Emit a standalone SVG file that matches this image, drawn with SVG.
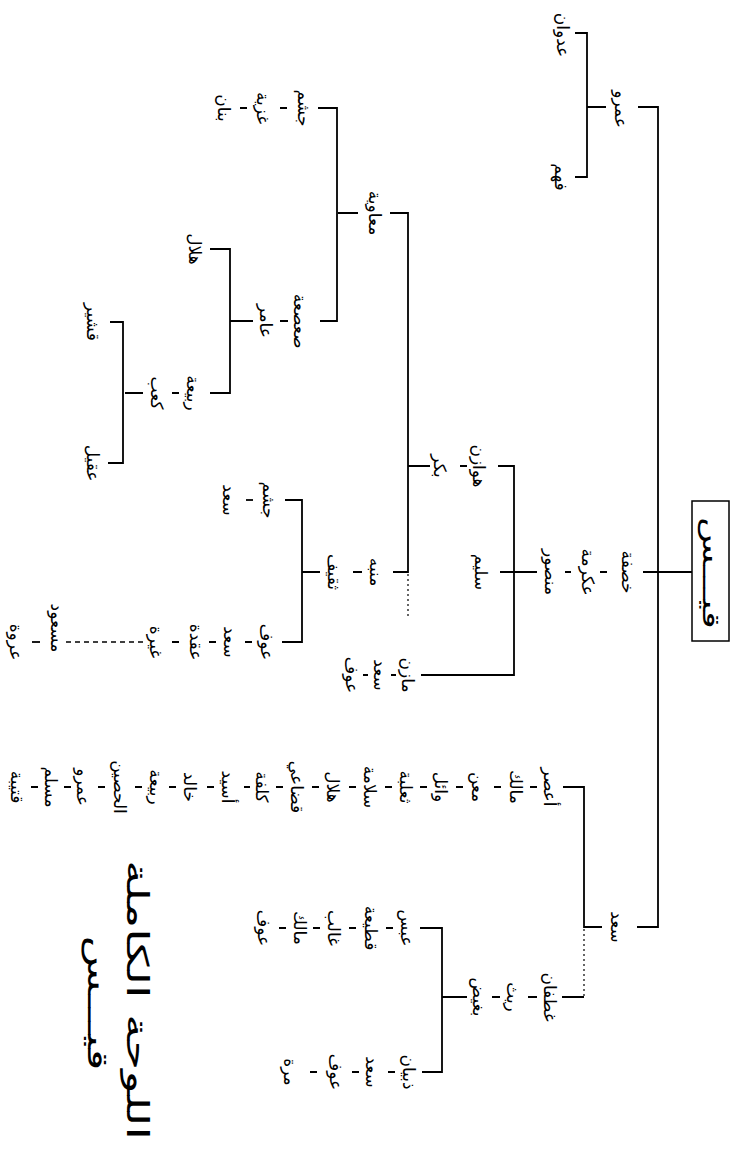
<svg xmlns="http://www.w3.org/2000/svg" width="732" height="1149" viewBox="0 0 732 1149">
<style>
.n{font-family:"DejaVu Sans",sans-serif;font-size:17px;fill:#000;text-anchor:middle;dominant-baseline:central}
.c{stroke:#000;stroke-width:1.8;fill:none}
.dot{stroke:#000;stroke-width:1.2;fill:none;stroke-dasharray:2 3}
.dash{stroke:#000;stroke-width:1.5;fill:none;stroke-dasharray:5 4}
</style>
<rect width="732" height="1149" fill="#fff"/>
<g id="connectors">
<path class="c" d="M638,107 H658 V927 H637"/>
<path class="c" d="M643,572 H692"/>
<path class="c" d="M587,107 H606 M575,33 H587 V177 H575"/>
<path class="c" d="M600,572 H607 M565,572 H571 M500,572 H537"/>
<path class="c" d="M498,466 H514 V675 H421"/>
<path class="c" d="M460,466 H467 M408,466 H430"/>
<path class="c" d="M390,213 H408 V572 H393"/>
<path class="dot" d="M408,574 V617"/>
<path class="c" d="M338,213 H358 M318,108 H337 V321 H320"/>
<path class="c" d="M280,108 H287 M240,108 H247"/>
<path class="c" d="M280,321 H288 M230,321 H253 M210,249 H230 V393 H210"/>
<path class="c" d="M172,393 H179 M125,393 H143 M110,322 H123 V463 H108"/>
<path class="c" d="M353,572 H362 M302,572 H320 M285,500 H302 V642 H282"/>
<path class="c" d="M246,500 H253"/>
<path class="c" d="M245,642 H252 M209,642 H216 M172,642 H179"/>
<path class="dash" d="M66,642 H144"/>
<path class="c" d="M32,642 H40"/>
<path class="c" d="M563,787 H584 V927 H602"/>
<path class="dot" d="M584,929 V997"/>
<path class="c" d="M530,787 H537 M494,787 H501 M456,787 H463 M420,787 H427 M385,787 H392 M349,787 H356 M312,787 H319 M276,787 H283 M244,787 H250 M207,787 H214 M169,787 H176 M135,787 H142 M98,787 H105 M64,787 H71 M31,787 H38"/>
<path class="c" d="M562,997 H584 M528,997 H537 M492,997 H500 M442,997 H467 M420,928 H442 V1072 H422"/>
<path class="c" d="M386,928 H393 M349,928 H356 M313,928 H320 M279,928 H286"/>
<path class="c" d="M388,1072 H395 M352,1072 H359 M310,1072 H317"/>
<path class="c" d="M391,675 H396 M363,675 H368"/>
</g>
<g id="root">
<rect x="692" y="501" width="37" height="140" fill="none" stroke="#000" stroke-width="1.5"/>
<text class="n" style="font-size:24px" transform="translate(711 573) rotate(90)" textLength="112" lengthAdjust="spacingAndGlyphs">قيـــس</text>
</g>
<g id="amr">
<text class="n" transform="translate(621 109) rotate(90)">عمرو</text>
<text class="n" transform="translate(563 35) rotate(90)">عدوان</text>
<text class="n" transform="translate(561 177) rotate(90)">فهم</text>
</g>
<g id="khasafa">
<text class="n" transform="translate(628 572) rotate(90)">خصفة</text>
<text class="n" transform="translate(588 572) rotate(90)">عكرمة</text>
<text class="n" transform="translate(551 572) rotate(90)">منصور</text>
<text class="n" transform="translate(481 572) rotate(90)">سليم</text>
</g>
<g id="mazin">
<text class="n" transform="translate(408 675) rotate(90)">مازن</text>
<text class="n" transform="translate(380 675) rotate(90)">سعد</text>
<text class="n" transform="translate(352 675) rotate(90)">عوف</text>
</g>
<g id="hawazin">
<text class="n" transform="translate(479 466) rotate(90)">هوازن</text>
<text class="n" transform="translate(440 466) rotate(90)">بكر</text>
</g>
<g id="muawiya">
<text class="n" transform="translate(375 213) rotate(90)">معاوية</text>
</g>
<g id="jusham">
<text class="n" transform="translate(304 108) rotate(90)">جشم</text>
<text class="n" transform="translate(263 108) rotate(90)">غزية</text>
<text class="n" transform="translate(224 108) rotate(90)">بنان</text>
</g>
<g id="sasaa">
<text class="n" transform="translate(300 321) rotate(90)">صعصعة</text>
<text class="n" transform="translate(266 321) rotate(90)">عامر</text>
</g>
<g id="hilal">
<text class="n" transform="translate(195 249) rotate(90)">هلال</text>
</g>
<g id="rabia">
<text class="n" transform="translate(193 393) rotate(90)">ربيعة</text>
<text class="n" transform="translate(157 393) rotate(90)">كعب</text>
</g>
<g id="qushayr">
<text class="n" transform="translate(93 322) rotate(90)">قشير</text>
</g>
<g id="uqayl">
<text class="n" transform="translate(93 463) rotate(90)">عقيل</text>
</g>
<g id="thaqif">
<text class="n" transform="translate(376 572) rotate(90)">منبه</text>
<text class="n" transform="translate(334 572) rotate(90)">ثقيف</text>
</g>
<g id="awf">
<text class="n" transform="translate(269 500) rotate(90)">جشم</text>
<text class="n" transform="translate(229 500) rotate(90)">سعد</text>
</g>
<g id="thaqif-chain">
<text class="n" transform="translate(267 642) rotate(90)">عوف</text>
<text class="n" transform="translate(230 642) rotate(90)">سعد</text>
<text class="n" transform="translate(196 642) rotate(90)">عقدة</text>
<text class="n" transform="translate(156 642) rotate(90)">غيرة</text>
<text class="n" transform="translate(57 628) rotate(90)">مسعود</text>
<text class="n" transform="translate(16 642) rotate(90)">عروة</text>
</g>
<g id="sad">
<text class="n" transform="translate(617 927) rotate(90)">سعد</text>
</g>
<g id="asur-chain">
<text class="n" transform="translate(550 787) rotate(90)">أعصر</text>
<text class="n" transform="translate(516 787) rotate(90)">مالك</text>
<text class="n" transform="translate(478 787) rotate(90)">معن</text>
<text class="n" transform="translate(441 787) rotate(90)">وائل</text>
<text class="n" transform="translate(406 787) rotate(90)">ثعلبة</text>
<text class="n" transform="translate(370 787) rotate(90)">سلامة</text>
<text class="n" transform="translate(333 787) rotate(90)">هلال</text>
<text class="n" transform="translate(297 787) rotate(90)">قضاعي</text>
<text class="n" transform="translate(262 787) rotate(90)">كلفة</text>
<text class="n" transform="translate(228 787) rotate(90)">أسيد</text>
<text class="n" transform="translate(190 787) rotate(90)">خالد</text>
<text class="n" transform="translate(156 787) rotate(90)">ربيعة</text>
<text class="n" transform="translate(120 787) rotate(90)">الحصين</text>
<text class="n" transform="translate(83 787) rotate(90)">عمرو</text>
<text class="n" transform="translate(51 787) rotate(90)">مسلم</text>
<text class="n" transform="translate(17 787) rotate(90)">قتيبة</text>
</g>
<g id="ghatafan">
<text class="n" transform="translate(550 997) rotate(90)">غطفان</text>
<text class="n" transform="translate(513 997) rotate(90)">ريث</text>
<text class="n" transform="translate(479 997) rotate(90)">بغيض</text>
</g>
<g id="abs">
<text class="n" transform="translate(407 928) rotate(90)">عبس</text>
<text class="n" transform="translate(371 928) rotate(90)">قطيعة</text>
<text class="n" transform="translate(334 928) rotate(90)">غالب</text>
<text class="n" transform="translate(300 928) rotate(90)">مالك</text>
<text class="n" transform="translate(264 928) rotate(90)">عوف</text>
</g>
<g id="dhubyan">
<text class="n" transform="translate(409 1072) rotate(90)">ذبيان</text>
<text class="n" transform="translate(372 1072) rotate(90)">سعد</text>
<text class="n" transform="translate(336 1072) rotate(90)">عوف</text>
<text class="n" transform="translate(290 1072) rotate(90)">مرة</text>
</g>
<g id="title">
<text class="n" style="font-size:30px" transform="translate(137 1000) rotate(90)" textLength="280" lengthAdjust="spacingAndGlyphs">اللوحة الكاملة</text>
<text class="n" style="font-size:28px" transform="translate(97 1003) rotate(90)" textLength="135" lengthAdjust="spacingAndGlyphs">قيـــس</text>
</g>
</svg>
